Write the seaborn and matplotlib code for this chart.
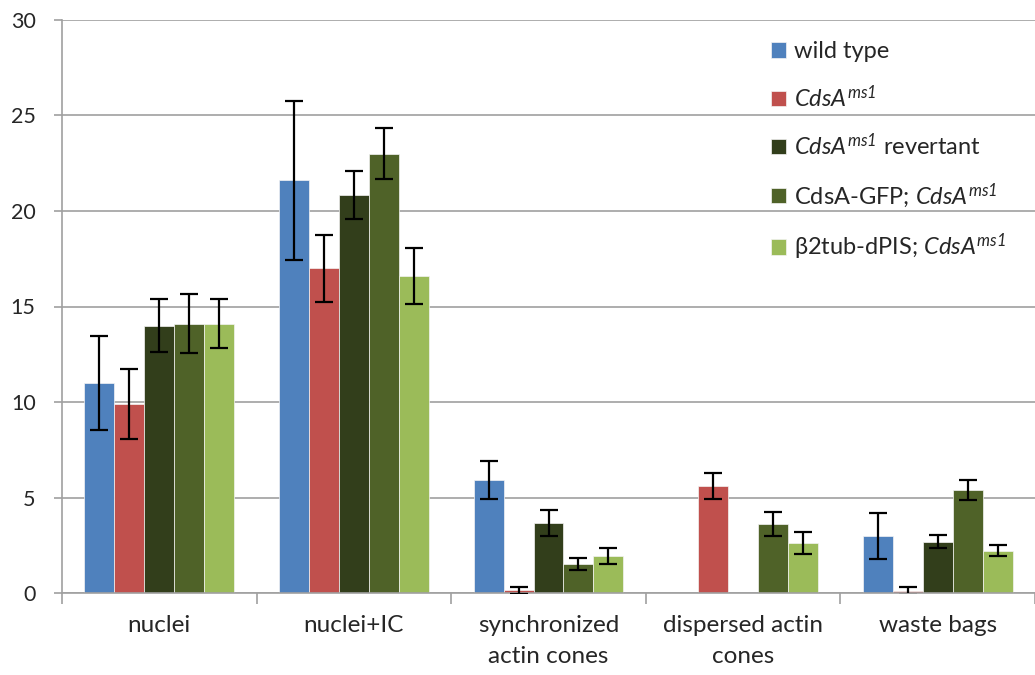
import numpy as np
import pandas as pd
import matplotlib
matplotlib.use("Agg")
import matplotlib.pyplot as plt
import seaborn as sns
from matplotlib.ticker import FixedLocator

categories = ["nuclei", "nuclei+IC", "synchronized\nactin cones", "dispersed actin\ncones", "waste bags"]
series = ["wild type", r"$CdsA^{ms1}$", r"$CdsA^{ms1}$ revertant",
          r"CdsA-GFP; $CdsA^{ms1}$", r"β2tub-dPIS; $CdsA^{ms1}$"]
wild_type = [11.0, 21.6, 5.9, 0.0, 3.0]
cdsa_ms1 = [9.9, 17.0, 0.15, 5.6, 0.12]
revertant = [14.0, 20.85, 3.68, 0.0, 2.69]
cdsa_gfp = [14.1, 23.0, 1.52, 3.6, 5.41]
b2tub = [14.1, 16.6, 1.92, 2.62, 2.21]
wild_type_err = [2.45, 4.15, 1.0, np.nan, 1.2]
cdsa_ms1_err = [1.83, 1.74, 0.18, 0.7, 0.2]
revertant_err = [1.38, 1.25, 0.68, np.nan, 0.33]
cdsa_gfp_err = [1.53, 1.32, 0.32, 0.62, 0.52]
b2tub_err = [1.29, 1.47, 0.41, 0.57, 0.29]
colors = ["#4F81BD", "#C0504D", "#323E1B", "#4F6228", "#9BBB59"]

values = [wild_type, cdsa_ms1, revertant, cdsa_gfp, b2tub]
errors = [wild_type_err, cdsa_ms1_err, revertant_err, cdsa_gfp_err, b2tub_err]

rows = []
for s, vals in zip(series, values):
    for c, v in zip(categories, vals):
        rows.append({"category": c, "series": s, "value": v})
df = pd.DataFrame(rows)

sns.set_style("white")
plt.rcParams["font.family"] = ["Lato", "DejaVu Sans"]
plt.rcParams["mathtext.fontset"] = "custom"
plt.rcParams["mathtext.rm"] = "Lato:italic"
plt.rcParams["mathtext.it"] = "Lato:italic"
plt.rcParams["mathtext.bf"] = "Lato:bold"

fig = plt.figure(figsize=(10.35, 6.75), dpi=100)
ax = fig.add_axes([62 / 1035, 1 - 593 / 675, 973 / 1035, 573 / 675])

sns.barplot(data=df, x="category", y="value", hue="series", order=categories,
            hue_order=series, palette=colors, saturation=1, width=0.77, errorbar=None,
            edgecolor="#F4F4F4", linewidth=0.5, ax=ax, zorder=2)

for cont, errs in zip(ax.containers, errors):
    for bar, e in zip(cont, errs):
        if np.isnan(e):
            continue
        x = bar.get_x() + bar.get_width() / 2
        ax.errorbar(x, bar.get_height(), yerr=e, fmt="none", ecolor="black",
                    elinewidth=1.6, capsize=6.5, capthick=1.6, zorder=3)

ax.set_ylim(0, 30)
ax.set_xlim(-0.5, 4.5)
ax.set_yticks(np.arange(0, 31, 5))
ax.yaxis.grid(True, color="#A0A0A0", linewidth=1.2, zorder=0)
ax.set_axisbelow(True)
for sp in ["top", "right"]:
    ax.spines[sp].set_visible(False)
for sp in ["left", "bottom"]:
    ax.spines[sp].set_color("#A0A0A0")
    ax.spines[sp].set_linewidth(1.2)
ax.set_xlabel("")
ax.set_ylabel("")
ax.tick_params(axis="y", which="major", length=6, width=1.2, color="#A0A0A0",
               labelsize=15.5, pad=13, left=True)
ax.tick_params(axis="x", which="major", length=0, labelsize=17.5, pad=16)
for lbl in ax.get_xticklabels():
    lbl.set_linespacing(1.55)
ax.xaxis.set_minor_locator(FixedLocator(np.arange(-0.5, 4.6, 1.0)))
ax.tick_params(axis="x", which="minor", length=8, width=1.2, color="#A0A0A0",
               bottom=True)

handles, labels = ax.get_legend_handles_labels()
ax.legend(handles, labels, loc="upper left", bbox_to_anchor=(0.7287, 0.963),
          frameon=False, fontsize=17, handlelength=0.62, handleheight=0.62,
          handletextpad=0.35, labelspacing=0.93, borderpad=0, borderaxespad=0)

fig.savefig("out.png", dpi=100)
